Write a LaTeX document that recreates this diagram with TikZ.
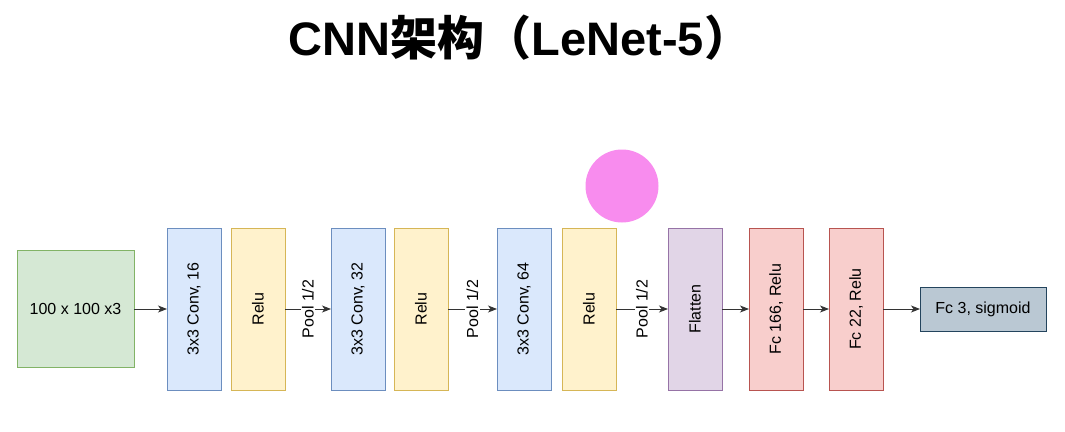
\documentclass[tikz,border=0pt]{standalone}
\usepackage{fontspec}
\setmainfont{Liberation Sans}
\newfontfamily\cjkfont{Noto Sans CJK SC}
\usepackage{graphicx}
\usetikzlibrary{arrows.meta,positioning}

\definecolor{inFill}{HTML}{D5E8D4}
\definecolor{inLine}{HTML}{82B366}
\definecolor{convFill}{HTML}{DAE8FC}
\definecolor{convLine}{HTML}{6C8EBF}
\definecolor{reluFill}{HTML}{FFF2CC}
\definecolor{reluLine}{HTML}{D6B656}
\definecolor{flatFill}{HTML}{E1D5E7}
\definecolor{flatLine}{HTML}{9673A6}
\definecolor{fcFill}{HTML}{F8CECC}
\definecolor{fcLine}{HTML}{B85450}
\definecolor{outFill}{HTML}{BAC8D3}
\definecolor{outLine}{HTML}{23445D}
\definecolor{spotPink}{RGB}{248,140,238}
\definecolor{edgeGray}{HTML}{333333}

\newcommand{\vlabel}[1]{\rotatebox{90}{#1}}

\begin{document}
\begin{tikzpicture}[
  x=1pt, y=1pt,
  font=\fontsize{16}{19}\selectfont,
  layer/.style={draw, line width=0.8pt, outer sep=0pt, inner sep=2pt,
    minimum width=54pt, minimum height=162pt},
  conv/.style={layer, fill=convFill, draw=convLine},
  relu/.style={layer, fill=reluFill, draw=reluLine},
  arr/.style={-{Stealth[length=9pt,width=7pt,inset=2.5pt]}, line width=0.9pt, draw=edgeGray},
  pool/.style={midway, rotate=90, fill=white, inner sep=1.5pt}
]
\useasboundingbox (0,0) rectangle (1065,-431);

% title
\node[anchor=base, font=\fontsize{47}{56}\selectfont\bfseries] (title) at (520,-55)
  {CNN{\cjkfont 架构（}LeNet-5{\cjkfont ）}};

% pointer spot
\node[circle, fill=spotPink, minimum size=73pt, inner sep=0pt] (spot) at (622,-186) {};

% layers
\node[draw=inLine, fill=inFill, line width=0.8pt, outer sep=0pt,
  minimum width=117pt, minimum height=117pt] (in) at (75.5,-309) {100 x 100 x3};
\node[conv, right=33pt of in] (c1) {\vlabel{3x3 Conv, 16}};
\node[relu, right=10pt of c1] (r1) {\vlabel{Relu}};
\node[conv, right=46pt of r1] (c2) {\vlabel{3x3 Conv, 32}};
\node[relu, right=9pt of c2] (r2) {\vlabel{Relu}};
\node[conv, right=49pt of r2] (c3) {\vlabel{3x3 Conv, 64}};
\node[relu, right=11pt of c3] (r3) {\vlabel{Relu}};
\node[layer, fill=flatFill, draw=flatLine, right=52pt of r3] (flat) {\vlabel{Flatten}};
\node[layer, fill=fcFill, draw=fcLine, right=27pt of flat] (fc1) {\vlabel{Fc 166, Relu}};
\node[layer, fill=fcFill, draw=fcLine, right=26pt of fc1] (fc2) {\vlabel{Fc 22, Relu}};
\node[draw=outLine, fill=outFill, line width=0.8pt, outer sep=0pt,
  minimum width=126pt, minimum height=44pt, right=37pt of fc2] (out) {Fc 3, sigmoid};

% connectors
\draw[arr] (in) -- (c1);
\draw[arr] (r1) -- node[pool] {Pool 1/2} (c2);
\draw[arr] (r2) -- node[pool] {Pool 1/2} (c3);
\draw[arr] (r3) -- node[pool] {Pool 1/2} (flat);
\draw[arr] (flat) -- (fc1);
\draw[arr] (fc1) -- (fc2);
\draw[arr] (fc2) -- (out);
\end{tikzpicture}
\end{document}
